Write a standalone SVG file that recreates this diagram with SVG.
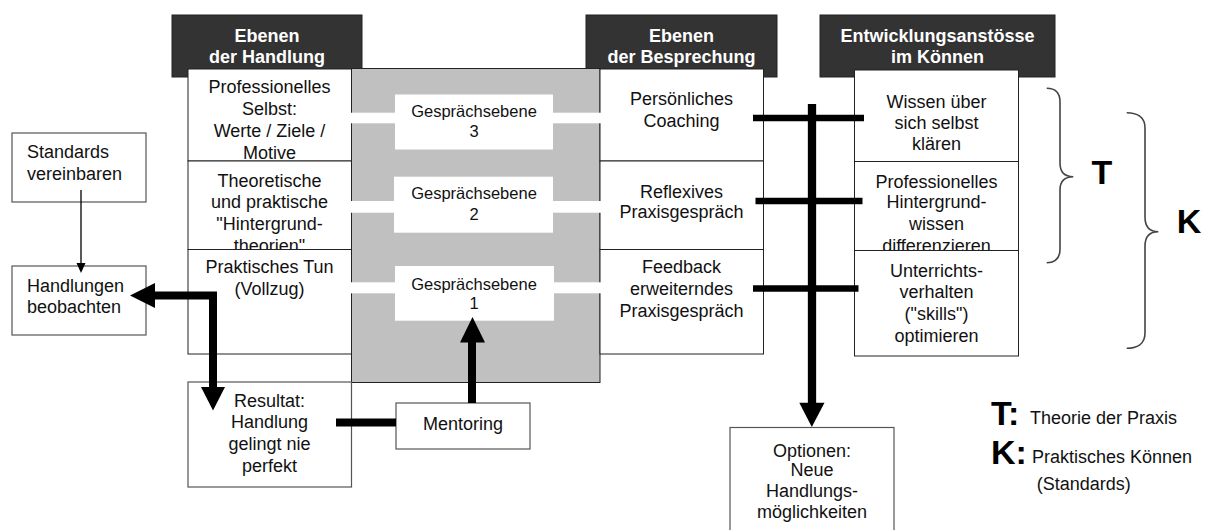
<svg xmlns="http://www.w3.org/2000/svg" width="1213" height="530" viewBox="0 0 1213 530">
<style>
text{font-family:"Liberation Sans",Arial,sans-serif;font-size:18px;fill:#111}
.c{text-anchor:middle}
.h{font-weight:bold;fill:#fff;text-anchor:middle}
.g{font-size:16.5px;text-anchor:middle}
.hd{fill:#333;stroke:#222;stroke-width:1}
.bx{fill:#fff;stroke:#222;stroke-width:1}
.bx2{fill:#fff;stroke:#555;stroke-width:1.2}
.thick{stroke:#000;stroke-width:8;fill:none}
.bar{stroke:#000;stroke-width:6.5;fill:none}
.brace{fill:none;stroke:#444;stroke-width:1.6}
.big{font-weight:bold;font-size:34px;fill:#000}
</style>
<rect width="1213" height="530" fill="#fff"/>

<g id="header-handlung"><rect class="hd" x="172" y="15" width="190" height="62"/><text class="h" x="267" y="41.7">Ebenen</text><text class="h" x="267" y="63.3">der Handlung</text></g>
<g id="header-besprechung"><rect class="hd" x="586" y="15" width="191" height="62"/><text class="h" x="681.5" y="41.7">Ebenen</text><text class="h" x="681.5" y="63.3">der Besprechung</text></g>
<g id="header-entwicklung"><rect class="hd" x="820" y="15" width="235" height="62"/><text class="h" x="937.5" y="41.7">Entwicklungsanstösse</text><text class="h" x="937.5" y="63.3">im Können</text></g>

<g id="gray-area"><rect x="351.5" y="68.5" width="248.5" height="314" fill="#c0c0c0" stroke="#222" stroke-width="1"/></g>

<g id="h1"><rect class="bx" x="188" y="69" width="163.5" height="92"/>
<text class="c" x="269.5" y="93.3">Professionelles</text><text class="c" x="269.5" y="115">Selbst:</text><text class="c" x="269.5" y="137.3">Werte / Ziele /</text><text class="c" x="269.5" y="159.3">Motive</text></g>
<g id="h2"><rect class="bx" x="188" y="161" width="163.5" height="88.5"/>
<text class="c" x="269.5" y="186.7">Theoretische</text><text class="c" x="269.5" y="208.3">und praktische</text><text class="c" x="269.5" y="230">"Hintergrund-</text><text class="c" x="269.5" y="251.7">theorien"</text></g>
<g id="h3"><rect class="bx" x="188" y="249.5" width="163.5" height="104.5"/>
<text class="c" x="269.5" y="272.7">Praktisches Tun</text><text class="c" x="269.5" y="295">(Vollzug)</text></g>

<g id="b1"><rect class="bx" x="600" y="69" width="163.5" height="92"/>
<text class="c" x="681.5" y="105">Persönliches</text><text class="c" x="681.5" y="126.7">Coaching</text></g>
<g id="b2"><rect class="bx" x="600" y="161" width="163.5" height="88.5"/>
<text class="c" x="681.5" y="198">Reflexives</text><text class="c" x="681.5" y="218.3">Praxisgespräch</text></g>
<g id="b3"><rect class="bx" x="600" y="249.5" width="163.5" height="104.5"/>
<text class="c" x="681.5" y="273.3">Feedback</text><text class="c" x="681.5" y="295">erweiterndes</text><text class="c" x="681.5" y="316.7">Praxisgespräch</text></g>

<g id="e1"><rect class="bx" x="854.5" y="70" width="164" height="91.5"/>
<text class="c" x="936.5" y="108.3">Wissen über</text><text class="c" x="936.5" y="129">sich selbst</text><text class="c" x="936.5" y="150">klären</text></g>
<g id="e2"><rect class="bx" x="854.5" y="161.5" width="164" height="89"/>
<text class="c" x="936.5" y="188.3">Professionelles</text><text class="c" x="936.5" y="208.3">Hintergrund-</text><text class="c" x="936.5" y="230">wissen</text><text class="c" x="936.5" y="251.5">differenzieren</text></g>
<g id="e3"><rect class="bx" x="854.5" y="250.5" width="164" height="105.5"/>
<text class="c" x="936.5" y="276.7">Unterrichts-</text><text class="c" x="936.5" y="298.3">verhalten</text><text class="c" x="936.5" y="320">("skills")</text><text class="c" x="936.5" y="341.7">optimieren</text></g>

<g id="strips" fill="#fff">
<rect x="350.5" y="112.7" width="250.5" height="10.6"/>
<rect x="350.5" y="201" width="250.5" height="11.7"/>
<rect x="350.5" y="282.3" width="250.5" height="11"/>
</g>

<g id="g3"><rect x="395" y="94.5" width="158" height="55" fill="#fff"/><text class="g" x="474" y="116.7">Gesprächsebene</text><text class="g" x="474" y="136.7">3</text></g>
<g id="g2"><rect x="394" y="176.7" width="159" height="56" fill="#fff"/><text class="g" x="474" y="199">Gesprächsebene</text><text class="g" x="474" y="220">2</text></g>
<g id="g1"><rect x="395" y="266" width="159" height="54.7" fill="#fff"/><text class="g" x="474" y="290">Gesprächsebene</text><text class="g" x="474" y="309">1</text></g>

<g id="standards"><rect class="bx2" x="12" y="133" width="134" height="69"/><text x="27" y="158.3">Standards</text><text x="27" y="180">vereinbaren</text></g>
<g id="beobachten"><rect class="bx2" x="12" y="266" width="134" height="69"/><text x="27" y="291.7">Handlungen</text><text x="27" y="313.3">beobachten</text></g>
<g id="resultat"><rect class="bx2" x="188" y="382" width="163.5" height="105"/>
<text class="c" x="269.5" y="407">Resultat:</text><text class="c" x="269.5" y="428.3">Handlung</text><text class="c" x="269.5" y="449.5">gelingt nie</text><text class="c" x="269.5" y="471.5">perfekt</text></g>
<g id="mentoring"><rect class="bx2" x="396" y="403" width="134" height="46"/><text class="c" x="463" y="430">Mentoring</text></g>
<g id="optionen"><rect class="bx2" x="730" y="427.5" width="164" height="110"/>
<text class="c" x="812" y="456.7">Optionen:</text><text class="c" x="812" y="475.5">Neue</text><text class="c" x="812" y="496.7">Handlungs-</text><text class="c" x="812" y="518">möglichkeiten</text></g>

<g id="connectors">
<line x1="81" y1="190" x2="81" y2="264" stroke="#000" stroke-width="1.3"/>
<polygon points="76.5,263 85.5,263 81,273" fill="#000"/>
<path class="thick" d="M213,390 V295.5 H154"/>
<polygon points="130,295.5 155,283 155,308" fill="#000"/>
<polygon points="201,387 225,387 213,410.5" fill="#000"/>
<line class="thick" x1="336" y1="422.5" x2="396" y2="422.5"/>
<line class="thick" x1="472" y1="403" x2="472" y2="340"/>
<polygon points="472.5,317 460,342.5 485,342.5" fill="#000"/>
<line class="bar" x1="753" y1="118" x2="864" y2="118"/>
<line class="bar" x1="755.5" y1="201" x2="862.5" y2="201"/>
<line class="bar" x1="753" y1="288.5" x2="858.5" y2="288.5"/>
<line x1="812" y1="104" x2="812" y2="405" stroke="#000" stroke-width="8.3"/>
<polygon points="799.3,402.7 824.5,402.7 811.8,427" fill="#000"/>
</g>

<g id="braces">
<path class="brace" d="M1046.7,88.3 C1055,88.3 1060,92 1060,102 V163 C1060,172 1064,176.7 1073.3,176.7 C1064,176.7 1060,181 1060,190 V249 C1060,259 1055,262.7 1046.7,262.7"/>
<path class="brace" d="M1126.7,112.7 C1137,112.7 1145,117 1145,128 V217 C1145,227 1150,231.7 1158.3,231.7 C1150,231.7 1145,236 1145,246 V333 C1145,344 1137,348.3 1126.7,348.3"/>
<text class="big" x="1102" y="184" text-anchor="middle">T</text>
<text class="big" x="1189" y="233" text-anchor="middle">K</text>
</g>

<g id="legend">
<text class="big" x="991" y="424.5">T:</text><text x="1030" y="424">Theorie der Praxis</text>
<text class="big" x="991" y="463.5">K:</text><text x="1032" y="463.3">Praktisches Können</text>
<text x="1036.7" y="490">(Standards)</text>
</g>
</svg>
